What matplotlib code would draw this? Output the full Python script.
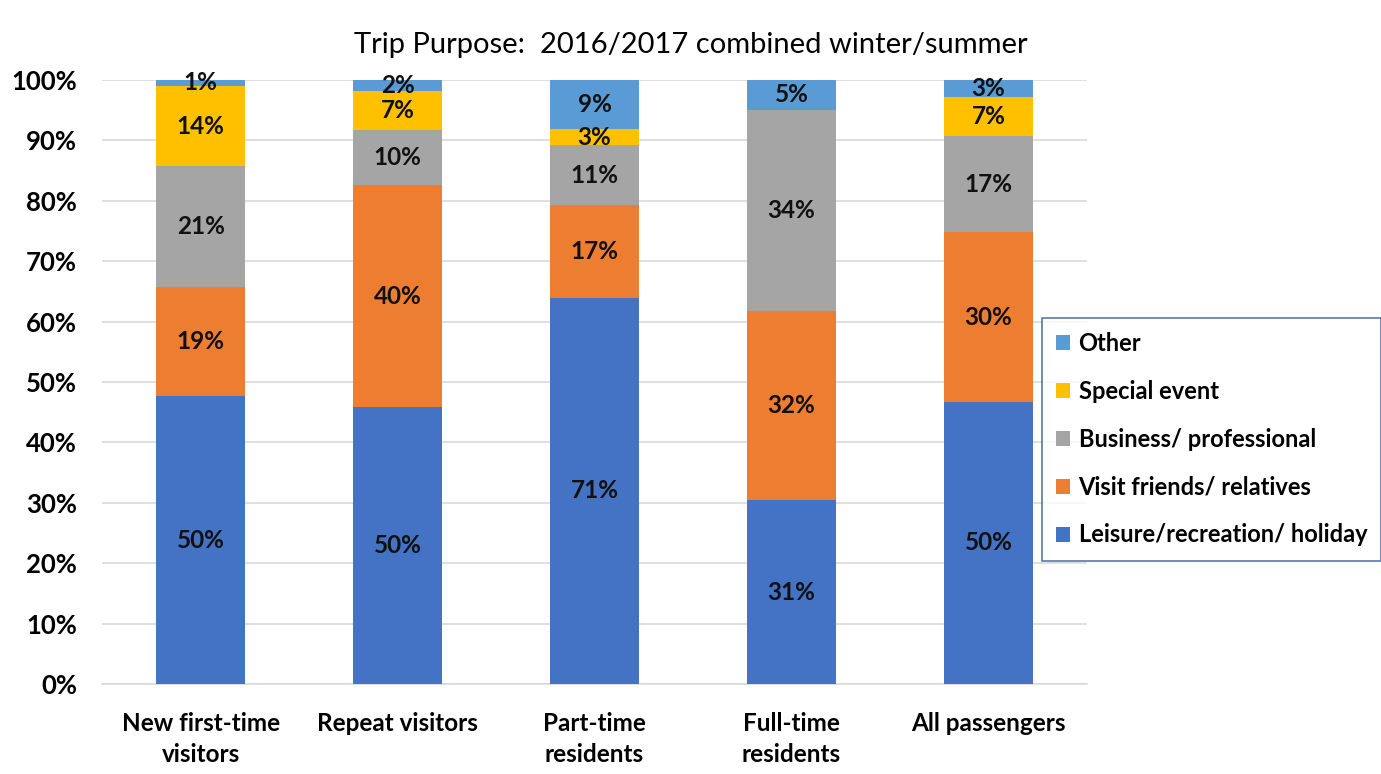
import numpy as np
import matplotlib.pyplot as plt

plt.rcParams['font.family'] = ['Lato', 'DejaVu Sans']

categories = ['New first-time\nvisitors', 'Repeat visitors', 'Part-time\nresidents',
              'Full-time\nresidents', 'All passengers']
series = ['Leisure/recreation/ holiday', 'Visit friends/ relatives',
          'Business/ professional', 'Special event', 'Other']
leisure = [50, 50, 71, 31, 50]
visit = [19, 40, 17, 32, 30]
business = [21, 10, 11, 34, 17]
special = [14, 7, 3, 0, 7]
other = [1, 2, 9, 5, 3]
colors = ['#4472C4', '#ED7D31', '#A5A5A5', '#FFC000', '#5B9BD5']

vals = np.array([leisure, visit, business, special, other], dtype=float)
shares = vals / vals.sum(axis=0) * 100

fig = plt.figure(figsize=(13.81, 7.74), dpi=100)
ax = fig.add_axes([0.074, 0.1163, 0.713, 0.7803])
x = np.arange(len(categories))
bottom = np.zeros(len(categories))
handles = []
for i, name in enumerate(series):
    b = ax.bar(x, shares[i], 0.45, bottom=bottom, color=colors[i], label=name, zorder=3)
    handles.append(b)
    for j in range(len(categories)):
        if vals[i, j] > 0:
            ax.text(x[j], bottom[j] + shares[i, j] / 2, f'{int(vals[i, j])}%',
                    ha='center', va='center', fontsize=17.5, fontweight='bold',
                    color='#111111', zorder=4)
    bottom += shares[i]

ax.set_xlim(-0.5, 4.5)
ax.set_ylim(0, 100)
ax.set_yticks(np.arange(0, 101, 10))
ax.set_yticklabels([f'{t}%' for t in range(0, 101, 10)], fontsize=18.5, fontweight='bold')
ax.set_xticks(x)
ax.set_xticklabels(categories, fontsize=17.5, fontweight='bold', linespacing=1.45)
ax.tick_params(axis='x', length=0, pad=20)
ax.tick_params(axis='y', length=0, pad=18)
ax.grid(axis='y', color='#D9D9D9', linewidth=1.2, zorder=0)
for s in ['top', 'right', 'left']:
    ax.spines[s].set_visible(False)
ax.spines['bottom'].set_color('#D9D9D9')
ax.spines['bottom'].set_linewidth(1.2)

fig.text(0.5, 0.942, 'Trip Purpose:  2016/2017 combined winter/summer', ha='center',
         va='center', fontsize=21)

leg = fig.legend(handles[::-1], series[::-1], loc='upper left',
                 bbox_to_anchor=(0.7545, 0.589), frameon=True,
                 fancybox=False, edgecolor='#2F5597', handlelength=0.6,
                 handleheight=0.6, handletextpad=0.35, labelspacing=1.05,
                 borderpad=0.6, borderaxespad=0,
                 prop={'weight': 'bold', 'size': 17})
leg.get_frame().set_linewidth(1.2)

fig.savefig('out.png', dpi=100)
